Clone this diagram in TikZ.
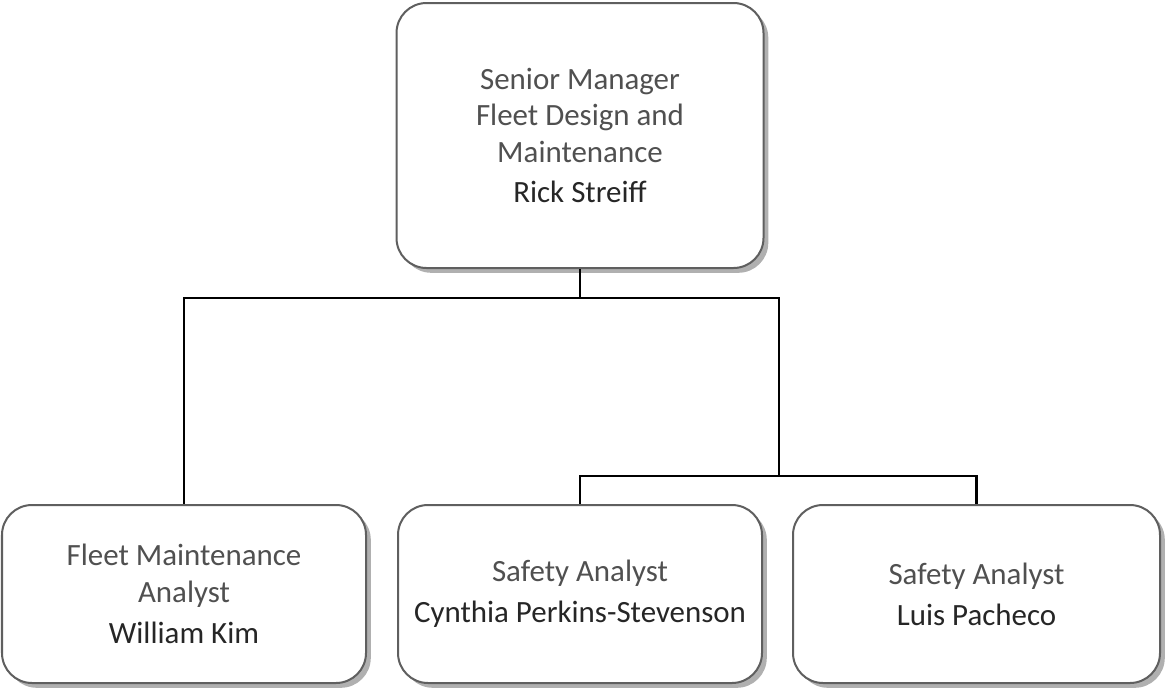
\documentclass[tikz,border=0pt]{standalone}
\usepackage{fontspec}
\setmainfont{Carlito}
\usetikzlibrary{shadows}
\definecolor{boxline}{HTML}{5F5F5F}
\definecolor{boxshade}{HTML}{B0B0B0}
\definecolor{titletext}{HTML}{505050}
\definecolor{nametext}{HTML}{262626}
\tikzset{
  orgbox/.style={draw=boxline, line width=0.05cm, rounded corners=0.75cm, fill=white,
    align=center, inner sep=0pt,
    drop shadow={shadow xshift=0.12cm, shadow yshift=-0.12cm, fill=boxshade, opacity=1},
    font=\fontsize{22}{26}\selectfont},
  orgline/.style={line width=0.055cm, black},
}
\newcommand{\posttitle}[1]{\textcolor{titletext}{#1}}
\newcommand{\staffname}[1]{\textcolor{nametext}{#1}}
\begin{document}
\begin{tikzpicture}
            \useasboundingbox (0,0) rectangle (29.150000,-17.225000);%
            
            % Drawing box of the senior manager
            \node [orgbox, minimum width=9.175000cm, minimum height=6.625000cm] (top) at (14.500000,-3.387500)
              {\posttitle{Senior Manager}\\ \posttitle{Fleet Design and}\\ \posttitle{Maintenance}\\[3pt] \staffname{Rick Streiff}};%
            
            % Drawing box of the fleet maintenance analyst
            \node [orgbox, minimum width=9.100000cm, minimum height=4.450000cm] (fma) at (4.600000,-14.850000)
              {\posttitle{Fleet Maintenance}\\ \posttitle{Analyst}\\[3pt] \staffname{William Kim}};%
            
            % Drawing box of the first safety analyst
            \node [orgbox, minimum width=9.100000cm, minimum height=4.450000cm] (sa1) at (14.500000,-14.850000)
              {\posttitle{Safety Analyst}\\[3pt] \staffname{Cynthia Perkins-Stevenson}};%
            
            % Drawing box of the second safety analyst
            \node [orgbox, minimum width=9.175000cm, minimum height=4.450000cm] (sa2) at (24.412500,-14.850000)
              {\posttitle{Safety Analyst}\\[3pt] \staffname{Luis Pacheco}};%
            
            % Marking junction points
            \coordinate (topjoin) at (14.500000,-7.450000);%
            \coordinate (safejoin) at (19.475000,-11.900000);%
            
            % Drawing connectors
            \draw [orgline] (top.south) -- (topjoin);%
            \draw [orgline] (topjoin) -| (fma.north);%
            \draw [orgline] (topjoin) -| (safejoin);%
            \draw [orgline] (safejoin) -| (sa1.north);%
            \draw [orgline] (safejoin) -| (sa2.north);%
\end{tikzpicture}
\end{document}
